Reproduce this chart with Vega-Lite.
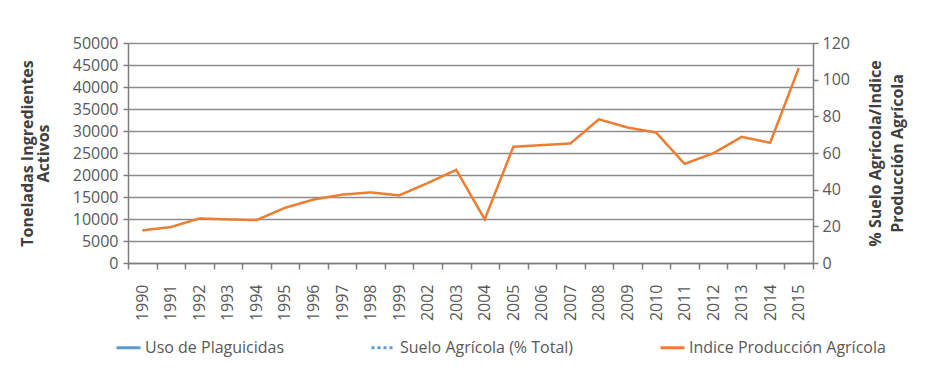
{
  "$schema": "https://vega.github.io/schema/vega-lite/v6.json",
  "autosize": "none",
  "width": 685,
  "height": 220,
  "padding": {"left": 128, "top": 43, "right": 124, "bottom": 112},
  "background": "white",
  "config": {
    "font": "Open Sans",
    "view": {"stroke": null},
    "axis": {
      "labelFont": "Open Sans",
      "labelFontSize": 16,
      "labelColor": "#595959",
      "titleFont": "Open Sans",
      "titleFontSize": 16,
      "titleFontWeight": "bold",
      "titleColor": "#404040",
      "domainColor": "#7f7f7f",
      "tickColor": "#7f7f7f",
      "gridColor": "#8c8c8c",
      "domainWidth": 1.5,
      "tickWidth": 1.5,
      "gridWidth": 1.5
    }
  },
  "data": {
    "values": [
      {"year": "1990", "series": "Indice Producción Agrícola", "value": 17.8},
      {"year": "1991", "series": "Indice Producción Agrícola", "value": 19.6},
      {"year": "1992", "series": "Indice Producción Agrícola", "value": 24.3},
      {"year": "1993", "series": "Indice Producción Agrícola", "value": 23.8},
      {"year": "1994", "series": "Indice Producción Agrícola", "value": 23.4},
      {"year": "1995", "series": "Indice Producción Agrícola", "value": 30.1},
      {"year": "1996", "series": "Indice Producción Agrícola", "value": 34.6},
      {"year": "1997", "series": "Indice Producción Agrícola", "value": 37.3},
      {"year": "1998", "series": "Indice Producción Agrícola", "value": 38.5},
      {"year": "1999", "series": "Indice Producción Agrícola", "value": 36.9},
      {"year": "2002", "series": "Indice Producción Agrícola", "value": 43.6},
      {"year": "2003", "series": "Indice Producción Agrícola", "value": 50.8},
      {"year": "2004", "series": "Indice Producción Agrícola", "value": 23.8},
      {"year": "2005", "series": "Indice Producción Agrícola", "value": 63.4},
      {"year": "2006", "series": "Indice Producción Agrícola", "value": 64.3},
      {"year": "2007", "series": "Indice Producción Agrícola", "value": 65.2},
      {"year": "2008", "series": "Indice Producción Agrícola", "value": 78.4},
      {"year": "2009", "series": "Indice Producción Agrícola", "value": 73.9},
      {"year": "2010", "series": "Indice Producción Agrícola", "value": 71.2},
      {"year": "2011", "series": "Indice Producción Agrícola", "value": 54.1},
      {"year": "2012", "series": "Indice Producción Agrícola", "value": 59.8},
      {"year": "2013", "series": "Indice Producción Agrícola", "value": 68.8},
      {"year": "2014", "series": "Indice Producción Agrícola", "value": 65.6},
      {"year": "2015", "series": "Indice Producción Agrícola", "value": 106.3}
    ]
  },
  "encoding": {
    "x": {
      "field": "year",
      "type": "ordinal",
      "scale": {"type": "band", "paddingInner": 0, "paddingOuter": 0},
      "axis": {
        "title": null,
        "labelAngle": -90,
        "labelPadding": 15,
        "tickBand": "extent",
        "tickSize": 6,
        "grid": false
      }
    },
    "color": {
      "field": "series",
      "type": "nominal",
      "scale": {
        "domain": ["Uso de Plaguicidas", "Suelo Agrícola (% Total)", "Indice Producción Agrícola"],
        "range": ["#5B9BD5", "#5B9BD5", "#ED7D31"]
      },
      "legend": {
        "title": null,
        "orient": "none",
        "direction": "horizontal",
        "legendX": -13,
        "legendY": 291,
        "symbolType": "stroke",
        "symbolSize": 576,
        "symbolStrokeWidth": 3,
        "labelFont": "Open Sans",
        "labelFontSize": 16,
        "labelColor": "#595959",
        "labelOffset": 3,
        "labelLimit": 300,
        "columnPadding": 80
      }
    },
    "strokeDash": {
      "field": "series",
      "type": "nominal",
      "scale": {
        "domain": ["Uso de Plaguicidas", "Suelo Agrícola (% Total)", "Indice Producción Agrícola"],
        "range": [[1, 0], [3, 3], [1, 0]]
      },
      "legend": {
        "title": null,
        "orient": "none",
        "direction": "horizontal",
        "legendX": -13,
        "legendY": 291,
        "symbolType": "stroke",
        "symbolSize": 576,
        "symbolStrokeWidth": 3,
        "labelFont": "Open Sans",
        "labelFontSize": 16,
        "labelColor": "#595959",
        "labelOffset": 3,
        "labelLimit": 300,
        "columnPadding": 80
      }
    }
  },
  "layer": [
    {
      "transform": [{"filter": "datum.series === 'Uso de Plaguicidas'"}],
      "mark": {"type": "line", "strokeWidth": 2.5},
      "encoding": {
        "y": {
          "field": "value",
          "type": "quantitative",
          "scale": {"domain": [0, 50000], "nice": false, "zero": true},
          "axis": {
            "orient": "left",
            "title": ["Toneladas Ingredientes", "Activos"],
            "titlePadding": 21,
            "titleLineHeight": 16,
            "values": [0, 5000, 10000, 15000, 20000, 25000, 30000, 35000, 40000, 45000, 50000],
            "format": "d",
            "tickSize": 5,
            "labelPadding": 5,
            "grid": true
          }
        }
      }
    },
    {
      "transform": [{"filter": "datum.series === 'Indice Producción Agrícola'"}],
      "mark": {"type": "line", "strokeWidth": 2.5},
      "encoding": {
        "y": {
          "field": "value",
          "type": "quantitative",
          "scale": {"domain": [0, 120], "nice": false, "zero": true},
          "axis": {
            "orient": "right",
            "title": ["% Suelo Agrícola/Indice", "Producción Agrícola"],
            "titleAngle": 270,
            "titleBaseline": "top",
            "titlePadding": -4,
            "titleLineHeight": 22,
            "values": [0, 20, 40, 60, 80, 100, 120],
            "tickSize": 5,
            "labelPadding": 4,
            "grid": false
          }
        }
      }
    }
  ],
  "resolve": {"scale": {"y": "independent"}}
}
